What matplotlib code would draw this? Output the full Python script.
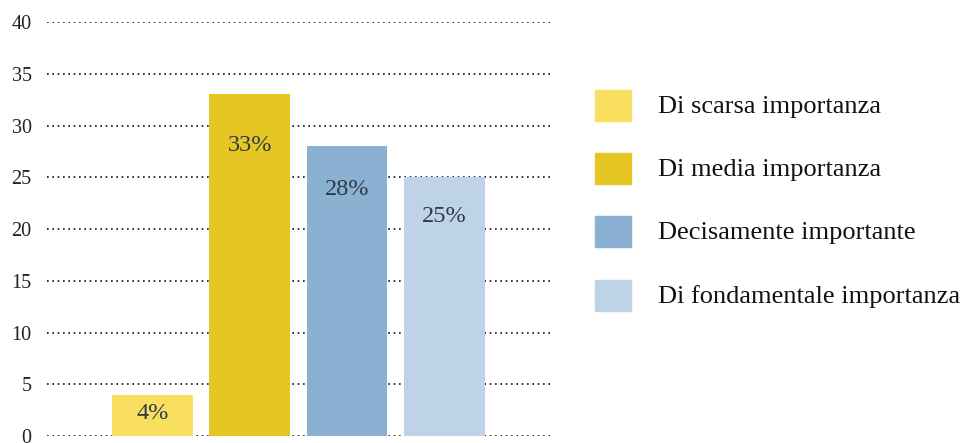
import matplotlib.pyplot as plt
from matplotlib.patches import Rectangle

categorie = ['Di scarsa importanza', 'Di media importanza',
             'Decisamente importante', 'Di fondamentale importanza']
valori = [4, 33, 28, 25]
etichette = ['4%', '33%', '28%', '25%']
colori = ['#f8df5f', '#e5c624', '#8ab0d2', '#bed3e8']
y_ticks = [0, 5, 10, 15, 20, 25, 30, 35, 40]

plt.rcParams['font.family'] = ['Liberation Serif', 'DejaVu Serif']

fig = plt.figure(figsize=(9.69, 4.43), dpi=100)
ax = fig.add_axes([47 / 969, 0.0158, (550 - 47) / 969, 0.9345])

x = list(range(len(valori)))
ax.bar(x, valori, width=0.83, color=colori, zorder=3)

# etichette dentro le barre
for xi, v, lab in zip(x, valori, etichette):
    y_lab = v * 0.85 if v > 10 else v * 0.55
    ax.text(xi, y_lab, lab, ha='center', va='center', fontsize=17.5,
            color='#2e3b48', zorder=4)

ax.set_xlim(-1.084, 4.085)
ax.set_ylim(0, 40)
ax.set_yticks(y_ticks)
ax.set_xticks([])
ax.tick_params(axis='y', length=0, pad=11, labelsize=14.5, labelcolor='#222222')
for s in ax.spines.values():
    s.set_visible(False)
ax.yaxis.grid(True, linestyle=(0, (1, 2.2)), color='#111111', linewidth=1.2, zorder=0)
ax.set_axisbelow(True)

# legenda a destra
W, H = 969, 443
riga_top = [90, 153, 216, 280]
for top, col, cat in zip(riga_top, colori, categorie):
    fig.add_artist(Rectangle((595 / W, 1 - (top + 31) / H), 36 / W, 31 / H,
                             transform=fig.transFigure, color=col))
    fig.text(658 / W, 1 - (top + 17) / H, cat, fontsize=19, va='center',
             ha='left', color='#111111')

fig.savefig('out.png', dpi=100)
